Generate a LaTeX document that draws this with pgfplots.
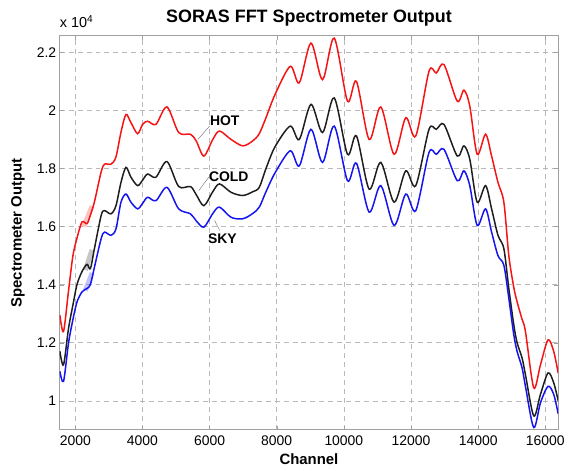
\documentclass[border=0pt]{standalone}
\usepackage{fontspec}
\setmainfont{Liberation Sans}
\usepackage{pgfplots}
\usepackage{pgfplotstable}
\pgfplotsset{compat=1.18}

% channel, HOT, COLD, SKY (spectrometer counts)
\pgfplotstableread{
ch hot cold sky
1540 12960 11710 11020
1650 12390 11240 10670
1800 13800 12500 12000
1930 15000 13300 12800
2050 15600 14000 13400
2200 16160 14450 13750
2350 16100 14700 13870
2450 16400 14550 14000
2570 16850 15240 14600
2770 17880 16380 15580
2870 18150 16550 15810
3064 18150 16440 15700
3212 18400 16720 15920
3361 19250 17520 16840
3510 19860 18040 17120
3658 19580 17700 16840
3857 19200 17410 16610
4006 19520 17600 16800
4155 19630 17810 17010
4401 19520 17700 16890
4730 20120 18240 17350
5080 19240 17380 16610
5430 19180 17380 16440
5602 18950 17100 16200
5830 18430 16720 15980
6095 19000 17200 16450
6295 19290 17470 16670
6640 19000 17180 16320
6990 18780 17070 16270
7284 18950 17200 16450
7480 19200 17350 16670
7680 19750 18000 17200
7950 20550 18750 17850
8403 21520 19460 18610
8672 20950 19000 18090
9020 22320 20210 19350
9365 21060 19240 18210
9713 22490 20430 19460
10108 20320 18490 17580
10375 21000 19120 18180
10753 19000 17290 16500
11100 20120 18210 17410
11496 18490 16840 16040
11843 19750 17920 17120
12141 19120 17410 16550
12536 21350 19350 18550
12753 21290 19350 18490
12982 21580 19520 18660
13377 20320 18430 17580
13576 20700 18780 17920
13750 20150 18320 17410
13971 18490 16840 16040
14220 19180 17410 16610
14400 18430 16610 15810
14590 17520 15700 15000
14765 16840 15240 14670
14913 15000 13870 13530
15062 13900 12610 12270
15160 13410 12000 11700
15309 12800 11470 11130
15408 12390 10900 10500
15655 10450 9480 9080
15855 11240 10220 9930
16081 12100 10960 10500
16250 11700 10620 10220
16384 10950 10000 9550
}\spec

\definecolor{gridgray}{RGB}{185,185,185}
\definecolor{boxgray}{RGB}{160,160,160}
\definecolor{hotred}{RGB}{245,20,20}
\definecolor{skyblue}{RGB}{20,20,240}
\definecolor{coldblack}{RGB}{30,30,30}

\begin{document}
\begin{tikzpicture}
\begin{axis}[
    scale only axis,
    width=501pt, height=396pt,
    xmin=1536, xmax=16384,
    ymin=9000, ymax=22570,
    xtick={2000,4000,...,16000},
    xticklabels={2000,4000,6000,8000,10000,12000,14000,16000},
    ytick={10000,12000,...,22000},
    yticklabels={1,1.2,1.4,1.6,1.8,2,2.2},
    scaled ticks=false,
    ticklabel style={font=\fontsize{14}{16}\selectfont},
    xticklabel style={yshift=-2pt},
    grid=major,
    major grid style={gridgray, dash pattern=on 5pt off 4pt, line width=0.6pt},
    axis line style={boxgray, line width=0.7pt},
    tick style={boxgray},
    major tick length=4pt,
    tick align=inside,
    title={\bfseries SORAS FFT Spectrometer Output},
    every axis title/.style={at={(axis description cs:0.5,1)}, anchor=base,
        yshift=13pt, font=\fontsize{18}{20}\selectfont},
    xlabel={\bfseries Channel},
    every axis x label/.style={at={(axis description cs:0.5,0)}, anchor=base,
        yshift=-35pt, font=\fontsize{15}{17}\selectfont},
    ylabel={\bfseries Spectrometer Output},
    every axis y label/.style={at={(axis description cs:0,0.5)}, xshift=-42pt,
        rotate=90, anchor=center, font=\fontsize{15}{17}\selectfont},
]
\addplot[hotred, line width=1.5pt, smooth] table[x=ch, y=hot] {\spec};
\addplot[coldblack, line width=1.5pt, smooth] table[x=ch, y=cold] {\spec};
\addplot[skyblue, line width=1.5pt, smooth] table[x=ch, y=sky] {\spec};

% faint noisy bands near channel 2400
\addplot[hotred, line width=5pt, opacity=0.25] coordinates {(2250,16000) (2500,16700)};
\addplot[coldblack, line width=5pt, opacity=0.25] coordinates {(2300,14500) (2500,15200)};
\addplot[skyblue, line width=5pt, opacity=0.25] coordinates {(2300,13800) (2500,14400)};

% curve labels with leader lines
\draw[gray, line width=0.5pt] (axis cs:5650,19000) -- (axis cs:6000,19460);
\node[anchor=west, inner sep=1pt, font=\fontsize{14}{16}\selectfont\bfseries] at (axis cs:5980,19640) {HOT};
\draw[gray, line width=0.5pt] (axis cs:5680,17240) -- (axis cs:5980,17710);
\node[anchor=west, inner sep=1pt, font=\fontsize{14}{16}\selectfont\bfseries] at (axis cs:5950,17720) {COLD};
\draw[gray, line width=0.5pt] (axis cs:6150,16210) -- (axis cs:6300,15870);
\node[anchor=west, inner sep=1pt, font=\fontsize{14}{16}\selectfont\bfseries] at (axis cs:5920,15580) {SKY};
\end{axis}
% exponent label
\node[anchor=base west, inner sep=0pt, yshift=8pt, font=\fontsize{14.5}{16}\selectfont]
    at (current axis.north west) {x 10\textsuperscript{4}};
\path (-60pt,-41pt) rectangle (508pt,432pt);
\end{tikzpicture}
\end{document}
